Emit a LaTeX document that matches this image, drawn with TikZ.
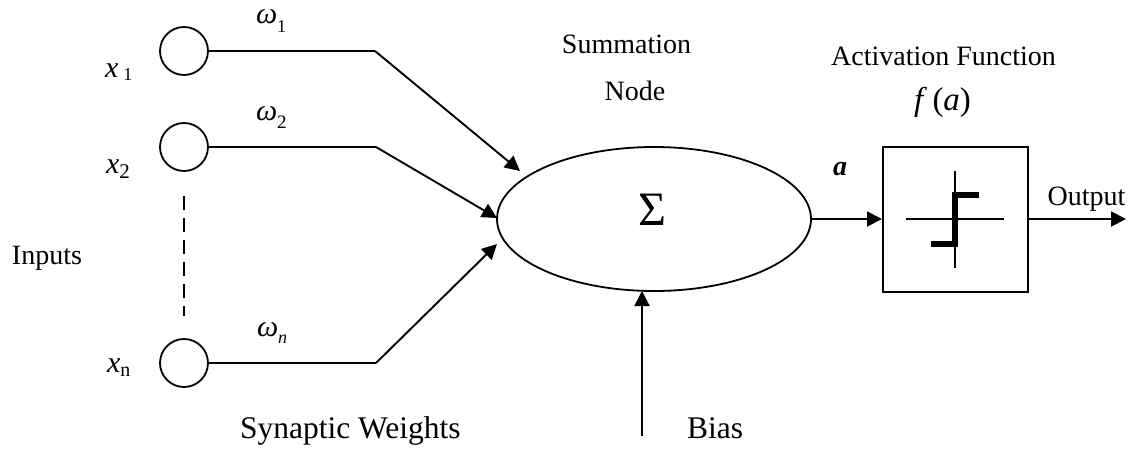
\documentclass[tikz,border=0pt]{standalone}
\usepackage{fontspec}
\setmainfont{Liberation Serif}
\usetikzlibrary{arrows.meta,shapes.geometric}
\newcommand{\sz}[1]{\fontsize{#1}{#1}\selectfont}
\tikzset{
 x=1pt,y=-1pt,
 every node/.style={inner sep=0pt,outer sep=0pt,anchor=base},
 wire/.style={line width=1.9pt,draw=black,line join=miter},
 arr/.style={wire,-{Triangle[length=15pt,width=15pt]}},
 inp/.style={circle,draw=black,line width=1.8pt,minimum size=48pt,anchor=center},
 lab/.style={font=\sz{28}},
 biglab/.style={font=\sz{31.5}},
 mathlab/.style={font=\sz{30}},
 heavy step/.style={line width=5.5pt,draw=black,line cap=butt,line join=miter}
}
\begin{document}
\begin{tikzpicture}
\useasboundingbox (0,0) rectangle (1132,451);
\node[inp] (c1) at (184,51) {};
\node[inp] (c2) at (184,147) {};
\node[inp] (c3) at (184,363) {};
\coordinate (k1) at (375,51);
\coordinate (k2) at (376,147);
\coordinate (k3) at (376,363);
\node[ellipse,draw=black,line width=1.8pt,minimum width=314pt,minimum height=144pt,anchor=center] (sum) at (654,219) {};
\node[draw=black,line width=2pt,minimum size=145pt,anchor=center] (box) at (955,219.5) {};
\node[font=\sz{48}] (sig) at (652,225) {Σ};
\coordinate (t1) at (520,171);
\coordinate (t2) at (497,218);
\coordinate (t3) at (497,244);
\draw[wire] (c1) -- (k1);
\draw[arr] (k1) -- (t1);
\draw[wire] (c2) -- (k2);
\draw[arr] (k2) -- (t2);
\draw[wire] (c3) -- (k3);
\draw[arr] (k3) -- (t3);
\coordinate (d1) at (184,196);
\coordinate (d2) at (184,316);
\draw[wire,dash pattern=on 14pt off 8pt] (d1) -- (d2);
\coordinate (b0) at (642,436);
\coordinate (b1) at (642,291);
\draw[arr] (b0) -- (b1);
\coordinate (se) at (811,219);
\coordinate (bw) at (882,219);
\draw[arr] (se) -- (bw);
\coordinate (be) at (1028,219);
\coordinate (o) at (1126,219);
\draw[arr] (be) -- (o);
\coordinate (h1) at (906,219); \coordinate (h2) at (1004,219);
\coordinate (v1) at (955,171); \coordinate (v2) at (955,268);
\draw[wire] (h1) -- (h2);
\draw[wire] (v1) -- (v2);
\coordinate (s1) at (931,244); \coordinate (s2) at (955,244);
\coordinate (s3) at (955,195); \coordinate (s4) at (979,195);
\draw[heavy step] (s1) -- (s2) -- (s3) -- (s4);
\node[mathlab,anchor=base west] (x1) at (105,77) {\textit{x}\,\raisebox{-3pt}{\sz{18}1}};
\node[mathlab,anchor=base west] (x2) at (106,173) {\textit{x}\raisebox{-5pt}{\sz{21}2}};
\node[mathlab,anchor=base west] (xn) at (107,372) {\textit{x}\raisebox{-4pt}{\sz{20}n}};
\node[mathlab,anchor=base west] (w1) at (256,23) {\textit{ω}\raisebox{-9pt}{\sz{18}1}};
\node[mathlab,anchor=base west] (w2) at (256,120) {\textit{ω}\raisebox{-8pt}{\sz{19}2}};
\node[mathlab,anchor=base west] (wn) at (257,336) {\textit{ω}\raisebox{-7pt}{\sz{18}\textit{n}}};
\node[lab,anchor=base west] (inputs) at (12,264) {Inputs};
\node[biglab,anchor=base west] (sw) at (240,438) {Synaptic Weights};
\node[biglab,anchor=base west] (bias) at (687,438) {Bias};
\node[lab] (sn1) at (626.5,53) {Summation};
\node[lab] (sn2) at (635,100) {Node};
\node[lab] (af) at (943.5,65) {Activation Function};
\node[font=\sz{33}] (fa) at (942.5,110) {\textit{f}\,(\textit{a})};
\node[font=\bfseries\itshape\sz{28}] (a) at (840,175) {a};
\node[lab] (out) at (1086.5,205) {Output};
\end{tikzpicture}
\end{document}
